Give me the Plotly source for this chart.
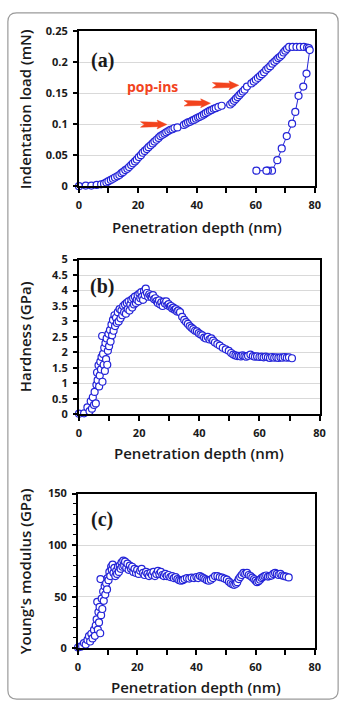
import plotly.graph_objects as go

W, H = 349, 711

# ---------------- data ----------------
# (a) load-depth curve: loading, hold, unloading
load_depth = [0, 2.3, 4.2, 6.0, 7.5, 8.5, 9.3, 10.0, 10.8, 11.5, 12.2, 13.0, 13.7, 14.4, 15.0,
              15.7, 16.4, 17.0, 17.7, 18.3, 19.0, 19.6, 20.3, 21.0, 21.6, 22.3, 23.0, 23.6, 24.3,
              25.0, 25.6, 26.3, 27.0, 27.6, 28.3, 29.0, 29.6, 30.3, 31.0, 31.7, 32.4, 33.4,
              35.6, 36.3, 37.0, 37.7, 38.4, 39.0, 39.7, 40.4, 41.0, 41.7, 42.4, 43.0, 43.7, 44.4,
              45.0, 45.7, 46.4, 47.3, 48.4,
              51.3, 52.0, 52.6, 53.2, 53.8, 54.4, 55.0, 55.6, 56.2, 57.0,
              58.5, 59.3, 60.0, 60.7, 61.4, 62.1, 62.8, 63.5, 64.2, 64.9, 65.6, 66.3, 67.0, 67.6,
              68.2, 68.8, 69.4, 70.0, 70.6, 71.3, 72.5, 73.8, 75.0, 76.3, 77.4, 78.0,
              78.3, 77.2, 76.1, 74.5, 73.4, 72.3, 70.5, 68.8, 67.3, 65.5, 64.1, 63.6, 60.2]
load_mN = [0.000, 0.001, 0.001, 0.002, 0.003, 0.004, 0.006, 0.008, 0.010, 0.012, 0.014, 0.016, 0.018,
           0.021, 0.023, 0.026, 0.028, 0.031, 0.034, 0.037, 0.040, 0.043, 0.047, 0.050, 0.054, 0.057,
           0.060, 0.063, 0.066, 0.069, 0.072, 0.075, 0.078, 0.081, 0.083, 0.085, 0.087, 0.089, 0.091,
           0.092, 0.094, 0.095,
           0.099, 0.101, 0.103, 0.104, 0.106, 0.107, 0.109, 0.111, 0.112, 0.114, 0.116, 0.118, 0.120,
           0.122, 0.123, 0.125, 0.126, 0.128, 0.130,
           0.132, 0.135, 0.138, 0.141, 0.144, 0.147, 0.150, 0.153, 0.156, 0.161,
           0.166, 0.169, 0.172, 0.175, 0.178, 0.181, 0.184, 0.188, 0.191, 0.194, 0.198, 0.201, 0.204,
           0.207, 0.209, 0.212, 0.216, 0.219, 0.222, 0.225, 0.225, 0.225, 0.225, 0.225, 0.224, 0.223,
           0.220, 0.182, 0.161, 0.146, 0.120, 0.101, 0.081, 0.061, 0.042, 0.025, 0.025, 0.025, 0.025]

# pop-in positions (depth nm, load mN) where the arrows point
popin_depth = [29.8, 44.6, 54.2]
popin_load = [0.0997, 0.134, 0.163]

# (b) hardness
hard_depth = [0.0, 1.7, 2.8, 3.5, 3.9, 4.3, 4.6, 5.0, 5.2, 5.6, 5.8, 6.0, 6.2, 6.5, 6.7, 6.9, 7.1, 7.3,
              7.5, 7.7, 7.8, 8.0, 8.2, 8.4, 8.6, 8.8, 9.0, 9.2, 9.4, 9.6, 9.8, 10.0, 10.3, 10.5, 10.8,
              11.0, 11.3, 11.5, 11.8, 12.0, 12.3, 12.6, 12.9, 13.2, 13.5, 13.8, 14.1, 14.4, 14.7, 15.0,
              15.3, 15.6, 15.9, 16.2, 16.5, 16.8, 17.1, 17.4, 17.7, 18.0, 18.3, 18.6, 18.9, 19.2, 19.5,
              19.8, 20.1, 20.4, 20.7, 21.0, 21.3, 21.6, 21.9, 22.2, 22.6, 23.0, 23.4, 23.8, 24.2, 24.6,
              25.0, 25.4, 25.8, 26.2, 26.6, 27.0, 27.4, 27.8, 28.2, 28.6, 29.0, 29.4, 29.8, 30.2, 30.6,
              31.0, 31.4, 31.8, 32.2, 32.6, 33.0, 33.6, 34.3, 35.0, 35.6, 36.2, 36.8, 37.4, 38.0, 38.6,
              39.2, 39.8, 40.4, 41.0, 41.6, 42.2, 42.8, 43.4, 44.0, 44.6, 45.2, 46.0, 46.8, 47.8, 48.8,
              49.8, 50.6, 51.3, 52.0, 52.6, 53.2, 53.8, 54.4, 55.0, 55.6, 56.2, 57.0, 57.8, 58.5, 59.2,
              60.0, 60.7, 61.4, 62.1, 62.8, 63.5, 64.2, 64.9, 65.6, 66.3, 67.0, 67.7, 68.4, 69.1, 69.8,
              70.8]
hard_GPa = [0.02, 0.03, 0.22, 0.10, 0.42, 0.18, 0.55, 0.30, 0.72, 0.35, 0.95, 1.35, 1.10, 1.58, 0.90,
            1.25, 1.70, 1.45, 1.85, 2.53, 1.05, 1.95, 1.60, 2.15, 1.40, 2.30, 1.78, 2.45, 1.60, 2.05,
            2.60, 2.20, 2.72, 2.35, 2.90, 2.55, 3.05, 2.70, 3.20, 2.85, 3.12, 2.95, 3.30, 3.00, 3.40,
            3.10, 3.35, 3.20, 3.50, 3.30, 3.55, 3.25, 3.60, 3.40, 3.65, 3.35, 3.55, 3.70, 3.45, 3.75,
            3.55, 3.80, 3.60, 3.70, 3.85, 3.65, 3.90, 3.75, 3.95, 3.80, 3.70, 3.98, 3.85, 4.06, 3.92,
            3.80, 3.88, 3.82, 3.78, 3.85, 3.72, 3.75, 3.66, 3.60, 3.68, 3.55, 3.62, 3.50, 3.64, 3.58,
            3.65, 3.52, 3.56, 3.48, 3.50, 3.42, 3.45, 3.38, 3.40, 3.32, 3.35, 3.30, 3.15, 3.05, 2.98,
            2.92, 2.85, 2.80, 2.75, 2.70, 2.68, 2.62, 2.58, 2.55, 2.48, 2.45, 2.50, 2.42, 2.45, 2.38,
            2.32, 2.27, 2.22, 2.15, 2.10, 2.05, 1.98, 1.93, 1.90, 1.88, 1.89, 1.87, 1.90, 1.88, 1.86,
            1.89, 1.93, 1.88, 1.86, 1.87, 1.85, 1.86, 1.84, 1.86, 1.84, 1.82, 1.85, 1.83, 1.84, 1.82,
            1.84, 1.83, 1.85, 1.83, 1.84, 1.81]

# (c) Young's modulus
mod_depth = [0.0, 0.8, 1.4, 2.0, 2.6, 3.2, 3.7, 4.1, 4.5, 4.9, 5.4, 5.7, 6.0, 6.3, 6.5, 6.7, 6.9, 7.1,
             7.3, 7.5, 7.6, 7.8, 8.0, 8.2, 8.5, 8.7, 9.0, 9.2, 9.5, 9.8, 10.0, 10.3, 10.6, 10.9, 11.2,
             11.4, 11.7, 12.0, 12.3, 12.6, 12.9, 13.2, 13.5, 13.8, 14.1, 14.4, 14.7, 15.0, 15.3, 15.6,
             15.9, 16.3, 16.7, 17.1, 17.5, 17.9, 18.3, 18.7, 19.1, 19.6, 20.0, 20.5, 21.0, 21.5, 22.0,
             22.5, 23.0, 23.5, 24.0, 24.5, 25.0, 25.5, 26.0, 26.5, 27.0, 27.5, 28.0, 28.5, 29.0, 29.5,
             30.0, 30.6, 31.2, 31.8, 32.4, 33.0, 33.6, 34.2, 34.8, 35.4, 36.0, 36.8, 37.6, 38.4, 39.2,
             40.0, 40.6, 41.2, 41.8, 42.4, 43.0, 43.6, 44.2, 44.9, 45.6, 46.3, 47.1, 47.9, 48.7, 49.5,
             50.3, 51.0, 51.6, 52.2, 52.8, 53.4, 53.8, 54.3, 54.8, 55.3, 55.9, 56.5, 57.1, 57.7, 58.3,
             58.9, 59.5, 60.0, 60.5, 61.0, 61.5, 62.0, 62.5, 63.0, 63.6, 64.2, 64.8, 65.4, 66.0, 66.6,
             67.2, 67.8, 68.4, 69.0, 69.6, 70.3, 71.2]
mod_GPa = [0.7, 1.5, 2.0, 5.0, 3.5, 8.0, 11.7, 6.5, 14.0, 9.5, 17.7, 12.0, 22.0, 28.0, 45.0, 18.0, 35.0,
           25.0, 40.0, 14.5, 67.0, 32.0, 48.0, 38.0, 55.0, 46.0, 60.0, 52.0, 63.0, 57.0, 68.0, 66.0, 74.0,
           70.0, 79.0, 76.0, 81.0, 73.0, 78.0, 70.0, 75.0, 72.0, 79.0, 74.0, 80.0, 77.0, 83.0, 79.0, 85.0,
           80.0, 84.0, 78.0, 82.0, 76.0, 80.0, 77.0, 79.0, 74.0, 77.0, 73.0, 76.0, 72.0, 75.0, 77.0, 73.0,
           71.0, 74.0, 72.0, 70.0, 73.0, 71.0, 74.0, 70.0, 72.0, 75.0, 72.0, 74.0, 71.0, 70.0, 72.0, 70.0,
           71.0, 69.0, 70.0, 68.0, 69.0, 67.0, 66.0, 65.5, 66.0, 67.0, 68.0, 67.5, 68.5, 68.0, 69.0, 68.0,
           70.0, 69.0, 68.0, 67.0, 66.0, 65.5, 66.5, 68.0, 70.0, 70.0, 69.0, 68.5, 67.5, 66.5, 64.5, 63.0,
           62.0, 61.5, 62.5, 64.0, 67.0, 69.0, 71.0, 73.0, 72.0, 73.0, 71.0, 70.0, 68.5, 67.0, 65.5, 64.0,
           65.0, 66.5, 68.0, 69.0, 70.0, 70.5, 69.5, 70.0, 70.5, 72.0, 73.0, 72.0, 71.0, 72.0, 70.5, 70.0,
           69.5, 68.6]

x_ticks = [0, 10, 20, 30, 40, 50, 60, 70, 80]
x_labels = ["0", "", "20", "", "40", "", "60", "", "80"]
a_ticks = [0, 0.05, 0.1, 0.15, 0.2, 0.25]
a_labels = ["0", "0.05", "0.1", "0.15", "0.2", "0.25"]
b_ticks = [0, 0.5, 1, 1.5, 2, 2.5, 3, 3.5, 4, 4.5, 5]
b_labels = ["0", "0.5", "1", "1.5", "2", "2.5", "3", "3.5", "4", "4.5", "5"]
c_ticks = [0, 50, 100, 150]
c_labels = ["0", "50", "100", "150"]

# ---------------- layout geometry (pixels) ----------------
panels = {
    "a": dict(x0=78, x1=320, top=24, bot=182),
    "b": dict(x0=78, x1=325, top=257, bot=415),
    "c": dict(x0=77, x1=320, top=496, bot=654),
}

def xdom(p):
    return [p["x0"] / W, p["x1"] / W]

def ydom(p):
    return [1 - p["bot"] / H, 1 - p["top"] / H]

BLUE = "#2424d8"
TXT = "#1a1a1a"
RED = "#f2431d"
TICKFONT = dict(family="Open Sans", size=11, color=TXT, weight="bold")
TITLEFONT = dict(family="Open Sans", size=15, color=TXT, weight=600)

fig = go.Figure()

marker = dict(symbol="circle", size=7, color="white", line=dict(color=BLUE, width=1.2))

fig.add_trace(go.Scatter(x=load_depth, y=load_mN, mode="lines+markers",
                         line=dict(color=BLUE, width=1), marker=marker,
                         xaxis="x", yaxis="y", cliponaxis=False, showlegend=False))
fig.add_trace(go.Scatter(x=hard_depth, y=hard_GPa, mode="markers", marker=marker,
                         xaxis="x2", yaxis="y2", cliponaxis=False, showlegend=False))
fig.add_trace(go.Scatter(x=mod_depth, y=mod_GPa, mode="markers", marker=marker,
                         xaxis="x3", yaxis="y3", cliponaxis=False, showlegend=False))

def xaxis_cfg(p, anchor):
    return dict(domain=xdom(p), anchor=anchor, range=[0, 80], tickvals=x_ticks, ticktext=x_labels,
                ticks="outside", ticklen=5, tickwidth=1.5, tickcolor="black",
                showline=True, linecolor="black", linewidth=2, mirror=True,
                showgrid=False, zeroline=False, tickfont=TICKFONT, ticklabelstandoff=3,
                fixedrange=True)

def yaxis_cfg(p, anchor, rng, tv, tt):
    return dict(domain=ydom(p), anchor=anchor, range=rng, tickvals=tv, ticktext=tt,
                ticks="outside", ticklen=4, tickwidth=1.5, tickcolor="black",
                showline=True, linecolor="black", linewidth=2, mirror=True,
                showgrid=True, gridcolor="#d9d9d9", gridwidth=1, zeroline=False,
                tickfont=TICKFONT, ticklabelstandoff=3, fixedrange=True)

yc = yaxis_cfg(panels["c"], "x3", [0, 150], c_ticks, c_labels)
yc["minor"] = dict(tickvals=list(range(0, 151, 10)), ticks="outside", ticklen=3,
                   tickwidth=1.2, tickcolor="black", showgrid=False)

fig.update_layout(
    width=W, height=H, margin=dict(l=0, r=0, t=0, b=0),
    paper_bgcolor="white", plot_bgcolor="white",
    xaxis=xaxis_cfg(panels["a"], "y"),
    yaxis=yaxis_cfg(panels["a"], "x", [0, 0.25], a_ticks, a_labels),
    xaxis2=xaxis_cfg(panels["b"], "y2"),
    yaxis2=yaxis_cfg(panels["b"], "x2", [0, 5], b_ticks, b_labels),
    xaxis3=xaxis_cfg(panels["c"], "y3"),
    yaxis3=yc,
)

ann = []
titles = [("a", "Indentation load (mN)", 224), ("b", "Hardness (GPa)", 455), ("c", "Young's modulus (GPa)", 694)]
for key, ytitle, xt_y in titles:
    p = panels[key]
    ann.append(dict(text="Penetration depth (nm)", xref="paper", yref="paper",
                    x=(p["x0"] + p["x1"]) / 2 / W, y=1 - xt_y / H, borderpad=0,
                    xanchor="center", yanchor="middle", showarrow=False, font=TITLEFONT))
    ann.append(dict(text=ytitle, xref="paper", yref="paper", x=22 / W, borderpad=0,
                    y=1 - (p["top"] + p["bot"]) / 2 / H, textangle=-90,
                    xanchor="center", yanchor="middle", showarrow=False, font=TITLEFONT))
    lab_y = {"a": 54, "b": 285, "c": 523}[key]
    ann.append(dict(text="(" + key + ")", xref="paper", yref="paper", x=102 / W, y=1 - lab_y / H,
                    xanchor="center", yanchor="middle", showarrow=False,
                    font=dict(family="Liberation Serif", size=20, color=TXT, weight="bold")))

ann.append(dict(text="pop-ins", xref="paper", yref="paper", x=153 / W, y=1 - 80 / H,
                xanchor="center", yanchor="middle", showarrow=False,
                font=dict(family="Open Sans", size=14, color=RED, weight="bold")))
fig.update_layout(annotations=ann)

# block arrows pointing at pop-ins (pixel offsets converted to data units)
pa = panels["a"]
sx = (pa["x1"] - pa["x0"]) / 80.0
sy = (pa["bot"] - pa["top"]) / 0.25
arrow_px = [(0, 0), (-10, 4.5), (-9, 2.2), (-27, 2.8), (-23, 0), (-27, -2.8), (-9, -2.2), (-10, -4.5)]
shapes = []
for tx, ty in zip(popin_depth, popin_load):
    pts = [(tx + dx / sx, ty + dy / sy) for dx, dy in arrow_px]
    path = "M " + " L ".join(f"{x:.4f},{y:.5f}" for x, y in pts) + " Z"
    shapes.append(dict(type="path", xref="x", yref="y", path=path,
                       fillcolor=RED, line=dict(color=RED, width=0.5)))

# rounded outer frame
l, r, t, b, rad = 5, 344, 5, 706, 9
def P(x, y):
    return f"{x / W:.5f},{1 - y / H:.5f}"
frame = (f"M {P(l + rad, t)} L {P(r - rad, t)} Q {P(r, t)} {P(r, t + rad)} "
         f"L {P(r, b - rad)} Q {P(r, b)} {P(r - rad, b)} L {P(l + rad, b)} "
         f"Q {P(l, b)} {P(l, b - rad)} L {P(l, t + rad)} Q {P(l, t)} {P(l + rad, t)} Z")
shapes.append(dict(type="path", xref="paper", yref="paper", path=frame,
                   line=dict(color="#9a9a9a", width=1.2), fillcolor="rgba(0,0,0,0)"))
fig.update_layout(shapes=shapes)

fig.write_html("out.html")
